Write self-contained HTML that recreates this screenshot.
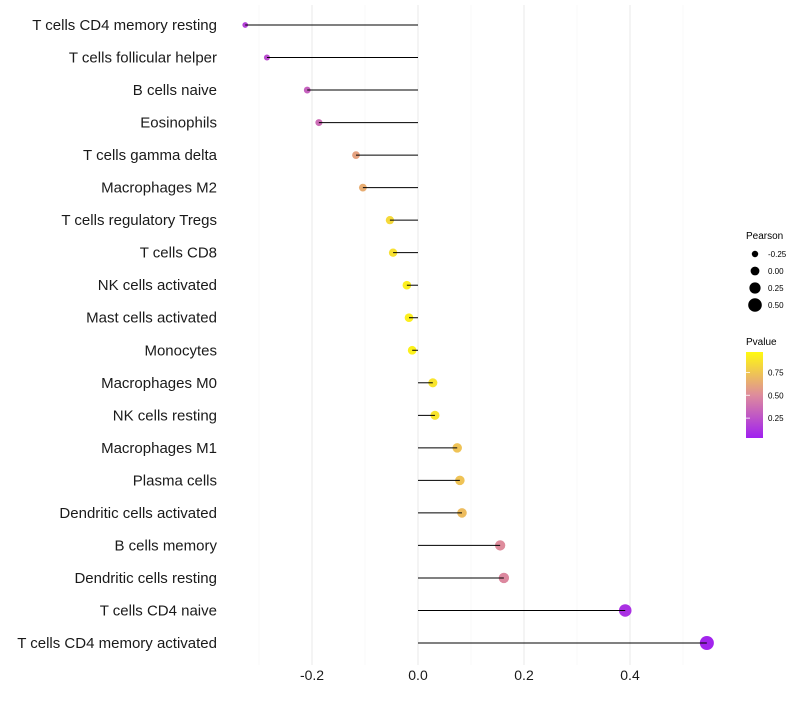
<!DOCTYPE html>
<html><head><meta charset="utf-8"><style>
body{margin:0;background:#fff;font-family:"Liberation Sans",sans-serif}
</style></head><body>
<svg id="chart" width="800" height="700" xmlns="http://www.w3.org/2000/svg">
<defs><linearGradient id="pg" x1="0" y1="1" x2="0" y2="0">
<stop offset="0" stop-color="#A020F0"/><stop offset="0.5" stop-color="#DE8C9C"/><stop offset="1" stop-color="#FFFA10"/></linearGradient></defs>
<g id="grid"></g><g id="dots"></g><g id="marks"></g><g id="labels"></g><g id="legend"></g>
</svg>
<script>
const categories=["T cells CD4 memory resting","T cells follicular helper","B cells naive","Eosinophils","T cells gamma delta","Macrophages M2","T cells regulatory  Tregs","T cells CD8","NK cells activated","Mast cells activated","Monocytes","Macrophages M0","NK cells resting","Macrophages M1","Plasma cells","Dendritic cells activated","B cells memory","Dendritic cells resting","T cells CD4 naive","T cells CD4 memory activated"];
const pearson=[-0.326,-0.285,-0.209,-0.187,-0.117,-0.104,-0.053,-0.047,-0.021,-0.017,-0.011,0.028,0.032,0.074,0.079,0.083,0.155,0.162,0.391,0.545];
const pvalues=[0.15,0.2,0.3,0.35,0.6,0.65,0.85,0.88,0.95,0.95,0.96,0.9,0.9,0.75,0.75,0.72,0.5,0.48,0.08,0.02];
const xTicks=[-0.2,0,0.2,0.4];
const xTickLabels=["-0.2","0.0","0.2","0.4"];
const minorTicks=[-0.3,-0.1,0.1,0.3,0.5];
const sizeLegend=[-0.25,0,0.25,0.5];
const pLegend=[0.25,0.5,0.75];
const NS="http://www.w3.org/2000/svg";
const xs=v=>418+v*530;
const ys=i=>25+i*(618/19);
const rs=v=>Math.max(1.5,4.4+4.8*v);
function lerp(a,b,t){return a.map((x,i)=>Math.round(x+(b[i]-x)*t));}
function col(p){const c0=[160,32,240],c1=[222,140,156],c2=[255,250,16];
const c=p<0.5?lerp(c0,c1,p/0.5):lerp(c1,c2,(p-0.5)/0.5);return `rgb(${c})`;}
function mk(tag,attrs,parent,text){const e=document.createElementNS(NS,tag);for(const k in attrs)e.setAttribute(k,attrs[k]);if(text!==undefined)e.textContent=text;document.getElementById(parent).appendChild(e);return e;}
minorTicks.forEach(v=>{const l=mk('line',{x1:xs(v),x2:xs(v),y1:5,y2:665,stroke:'#f3f3f3','stroke-width':0.6},'grid');

});
xTicks.forEach((v,i)=>{const l=mk('line',{x1:xs(v),x2:xs(v),y1:5,y2:665,stroke:'#ececec','stroke-width':1.1},'grid');


const t=mk('text',{x:xs(v),y:680,'text-anchor':'middle','font-size':14,fill:'#1a1a1a'},'labels',xTickLabels[i]);

});
categories.forEach((c,i)=>{const y=ys(i);
const d=mk('circle',{cx:xs(pearson[i]),cy:y,r:rs(pearson[i]),fill:col(pvalues[i])},'dots');


const l=mk('line',{x1:xs(0),x2:xs(pearson[i]),y1:y,y2:y,stroke:'#000','stroke-width':1},'marks');


const t=mk('text',{x:217,y:y+5,'text-anchor':'end','font-size':15,fill:'#1a1a1a'},'labels',c);

});
let t=mk('text',{x:746,y:239,'font-size':10},'legend','Pearson');


sizeLegend.forEach((v,i)=>{const y=254+i*17;
const c=mk('circle',{cx:755,cy:y,r:rs(v),fill:'#000'},'legend');


const tt=mk('text',{x:768,y:y+3,'font-size':8},'legend',v.toFixed(2));

});
t=mk('text',{x:746,y:345,'font-size':10},'legend','Pvalue');


const r=mk('rect',{x:746,y:352,width:17,height:86,fill:'url(#pg)'},'legend');


pLegend.forEach(v=>{const y=438-v*86/0.94+3;
const tt=mk('text',{x:768,y:y+3,'font-size':8},'legend',v.toFixed(2));


const tk=mk('line',{x1:746,x2:750,y1:y,y2:y,stroke:'#fff','stroke-width':0.8},'legend');

});
</script>
</body></html>
